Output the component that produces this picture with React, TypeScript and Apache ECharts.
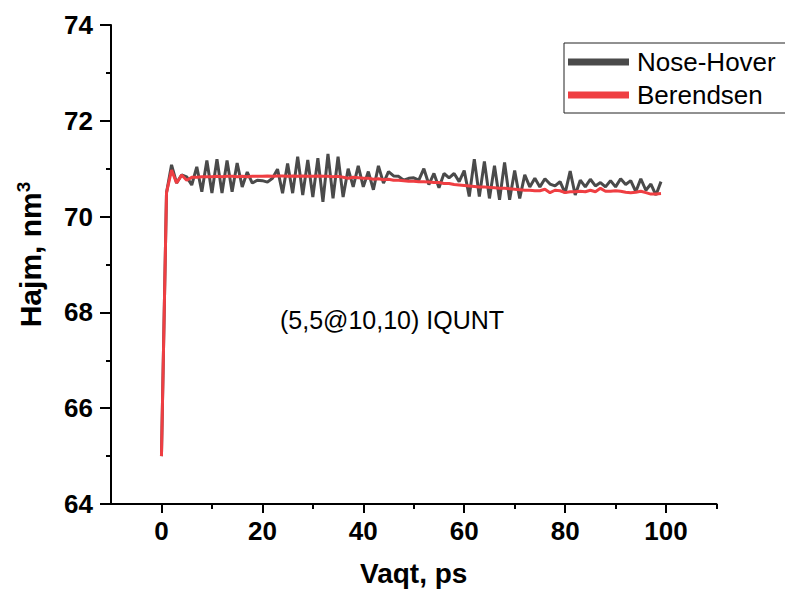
import React, { useEffect, useRef } from "react";
import * as echarts from "echarts";

const TIME = [
  0, 1, 2, 3, 4, 5, 6, 7, 8, 9, 10, 11, 12, 13, 14, 15, 16, 17, 18, 19,
  20, 21, 22, 23, 24, 25, 26, 27, 28, 29, 30, 31, 32, 33, 34, 35, 36, 37, 38, 39,
  40, 41, 42, 43, 44, 45, 46, 47, 48, 49, 50, 51, 52, 53, 54, 55, 56, 57, 58, 59,
  60, 61, 62, 63, 64, 65, 66, 67, 68, 69, 70, 71, 72, 73, 74, 75, 76, 77, 78, 79,
  80, 81, 82, 83, 84, 85, 86, 87, 88, 89, 90, 91, 92, 93, 94, 95, 96, 97, 98, 99,
];

const NOSE_HOVER = [
  65.0, 70.5, 71.08, 70.7, 70.87, 70.83, 70.66, 71.04, 70.52, 71.17,
  70.49, 71.2, 70.49, 71.17, 70.52, 71.12, 70.62, 70.93, 70.7, 70.76,
  70.75, 70.72, 70.8, 70.99, 70.49, 71.11, 70.49, 71.25, 70.45, 71.18,
  70.41, 71.22, 70.31, 71.31, 70.38, 71.25, 70.41, 71.0, 70.62, 71.06,
  70.62, 70.94, 70.56, 71.06, 70.7, 70.94, 70.85, 70.84, 70.76, 70.8,
  70.81, 70.76, 71.0, 70.67, 70.9, 70.6, 70.9, 70.81, 70.9, 70.73,
  70.96, 70.42, 71.2, 70.42, 71.15, 70.38, 71.06, 70.35, 71.13, 70.35,
  70.96, 70.38, 70.87, 70.62, 70.8, 70.62, 70.79, 70.68, 70.64, 70.73,
  70.49, 70.95, 70.45, 70.76, 70.62, 70.78, 70.64, 70.71, 70.62, 70.75,
  70.62, 70.79, 70.67, 70.75, 70.52, 70.79, 70.55, 70.68, 70.45, 70.73,
];

const BERENDSEN = [
  65.0, 70.5, 70.97, 70.7, 70.87, 70.76, 70.82, 70.82, 70.83, 70.83,
  70.83, 70.84, 70.83, 70.84, 70.84, 70.83, 70.84, 70.83, 70.84, 70.84,
  70.84, 70.85, 70.84, 70.85, 70.85, 70.84, 70.85, 70.84, 70.85, 70.84,
  70.84, 70.85, 70.84, 70.84, 70.83, 70.84, 70.82, 70.8, 70.82, 70.81,
  70.8, 70.8, 70.78, 70.79, 70.77, 70.78, 70.76, 70.76, 70.75, 70.74,
  70.74, 70.73, 70.73, 70.72, 70.71, 70.71, 70.69, 70.69, 70.67, 70.66,
  70.65, 70.64, 70.63, 70.62, 70.62, 70.61, 70.6, 70.59, 70.59, 70.58,
  70.57, 70.56, 70.55, 70.55, 70.54, 70.54, 70.57, 70.5, 70.55, 70.54,
  70.5, 70.52, 70.52, 70.53, 70.52, 70.55, 70.52, 70.59, 70.53, 70.53,
  70.54, 70.53, 70.51, 70.5, 70.51, 70.53, 70.5, 70.47, 70.47, 70.48,
];

const X_MAJOR = [0, 20, 40, 60, 80, 100];
const X_MINOR = [10, 30, 50, 70, 90, 110];

const SERIES_NAMES = ["Nose-Hover", "Berendsen"];
const ANNOTATION = "(5,5@10,10) IQUNT";
const FONT = "'Liberation Sans', Arial, Helvetica, sans-serif";

export default function App() {
  const ref = useRef<HTMLDivElement>(null);
  useEffect(() => {
    if (!ref.current) return;
    const chart = echarts.init(ref.current, undefined, { renderer: "svg" });
    const lineStyle = { color: "#000", width: 2 };
    chart.setOption({
      animation: false,
      backgroundColor: "#fff",
      textStyle: { fontFamily: FONT },
      grid: { left: 111, right: 68.5, top: 25, bottom: 89 },
      legend: {
        orient: "vertical",
        left: 564,
        top: 43,
        data: SERIES_NAMES,
        icon: "rect",
        itemWidth: 61,
        itemHeight: 7,
        itemGap: 7,
        padding: [6, 14, 5, 4],
        borderColor: "#222",
        borderWidth: 1,
        textStyle: { fontSize: 26, color: "#000", fontFamily: FONT, padding: [0, 0, 0, 3] },
      },
      xAxis: [
        {
          type: "value",
          min: -10,
          max: 110,
          interval: 10,
          name: "Vaqt, ps",
          nameLocation: "middle",
          nameGap: 55,
          nameTextStyle: { fontSize: 28, fontWeight: "bold", color: "#000", fontFamily: FONT },
          axisLine: { show: true, onZero: false, lineStyle },
          axisTick: { show: true, customValues: X_MAJOR, length: 9, lineStyle },
          axisLabel: {
            customValues: X_MAJOR,
            fontSize: 26,
            fontWeight: "bold",
            color: "#000",
            margin: 14,
            fontFamily: FONT,
          },
          splitLine: { show: false },
        },
        {
          type: "value",
          min: -10,
          max: 110,
          interval: 10,
          position: "bottom",
          axisLine: { show: false, onZero: false },
          axisTick: { show: true, customValues: X_MINOR, length: 5, lineStyle },
          axisLabel: { show: false },
          splitLine: { show: false },
        },
      ],
      yAxis: {
        type: "value",
        min: 64,
        max: 74,
        interval: 2,
        name: "Hajm, nm{sup|3}",
        nameLocation: "middle",
        nameGap: 64,
        nameTextStyle: {
          fontSize: 30,
          fontWeight: "bold",
          color: "#000",
          fontFamily: FONT,
          padding: [0, 0, 0, 20],
          rich: {
            sup: { fontSize: 19, fontWeight: "bold", color: "#000", fontFamily: FONT, padding: [0, 0, 14, 0] },
          },
        },
        axisLine: { show: true, onZero: false, lineStyle },
        axisTick: { show: true, length: 11, lineStyle },
        minorTick: { show: true, splitNumber: 2, length: 5, lineStyle },
        axisLabel: { fontSize: 26, fontWeight: "bold", color: "#000", margin: 18, fontFamily: FONT },
        splitLine: { show: false },
        minorSplitLine: { show: false },
      },
      graphic: [
        {
          type: "text",
          left: 280,
          top: 307,
          style: { text: ANNOTATION, font: `25px ${FONT}`, fill: "#000" },
        },
      ],
      series: [
        {
          name: SERIES_NAMES[0],
          type: "line",
          symbol: "none",
          data: TIME.map((t, i) => [t, NOSE_HOVER[i]]),
          itemStyle: { color: "#4a4a4a" },
          lineStyle: { color: "#4a4a4a", width: 3 },
        },
        {
          name: SERIES_NAMES[1],
          type: "line",
          symbol: "none",
          data: TIME.map((t, i) => [t, BERENDSEN[i]]),
          itemStyle: { color: "#ef3e42" },
          lineStyle: { color: "#ef3e42", width: 3 },
        },
      ],
    });
    return () => chart.dispose();
  }, []);
  return <div ref={ref} style={{ position: "fixed", left: 0, top: 0, width: 785, height: 593 }} />;
}
